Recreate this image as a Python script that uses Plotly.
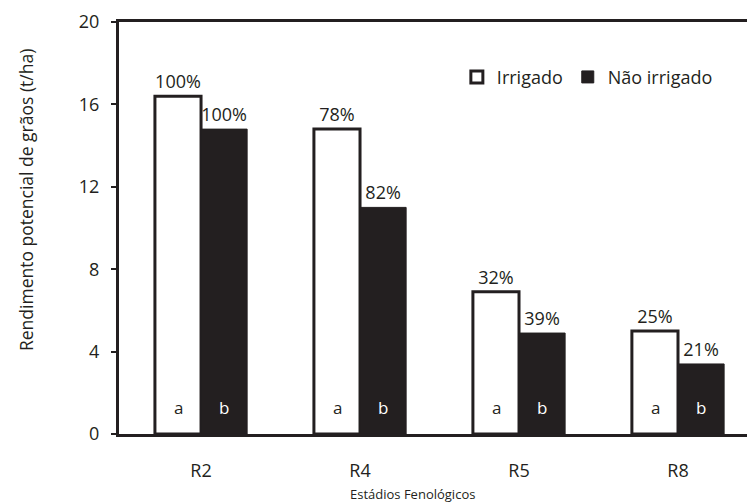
import plotly.graph_objects as go

categories = ["R2", "R4", "R5", "R8"]
irrigado = [16.4, 14.8, 6.9, 5.0]
nao_irrigado = [14.8, 11.0, 4.9, 3.4]
pct_irrigado = ["100%", "78%", "32%", "25%"]
pct_nao = ["100%", "82%", "39%", "21%"]
letters_irrigado = ["a", "a", "a", "a"]
letters_nao = ["b", "b", "b", "b"]
y_ticks = [0, 4, 8, 12, 16, 20]

DARK = "#231f20"
FONT = "Open Sans"
FS = 18

fig = go.Figure()
fig.add_trace(go.Bar(
    x=categories, y=irrigado, name="Irrigado",
    marker=dict(color="white", line=dict(color=DARK, width=3)),
    text=pct_irrigado, textposition="outside", cliponaxis=False,
    constraintext="none",
    textfont=dict(size=FS, color=DARK, family=FONT),
))
fig.add_trace(go.Bar(
    x=categories, y=nao_irrigado, name="Não irrigado",
    marker=dict(color=DARK, line=dict(color=DARK, width=1)),
    text=pct_nao, textposition="outside", cliponaxis=False,
    constraintext="none",
    textfont=dict(size=FS, color=DARK, family=FONT),
))

annotations = []
for c, la, lb in zip(categories, letters_irrigado, letters_nao):
    annotations.append(dict(x=c, y=1.3, xref="x", yref="y", text=la, showarrow=False,
                            xshift=-23, font=dict(size=17, color=DARK, family=FONT)))
    annotations.append(dict(x=c, y=1.3, xref="x", yref="y", text=lb, showarrow=False,
                            xshift=23, font=dict(size=17, color="white", family=FONT)))

annotations.append(dict(x=0.468, y=-0.146, xref="paper", yref="paper",
                        text="Estádios Fenológicos", showarrow=False,
                        yanchor="middle", font=dict(size=13, color=DARK, family=FONT)))
annotations.append(dict(x=-0.148, y=0.568, xref="paper", yref="paper",
                        text="Rendimento potencial de grãos (t/ha)", showarrow=False,
                        textangle=-90, xanchor="center", yanchor="middle",
                        font=dict(size=17.5, color=DARK, family=FONT)))

fig.update_layout(
    width=747, height=504,
    margin=dict(l=119, r=0, t=22, b=70),
    plot_bgcolor="white", paper_bgcolor="white",
    barmode="group", bargap=0.42, bargroupgap=0,
    font=dict(family=FONT, color=DARK, size=FS),
    showlegend=True,
    legend=dict(orientation="h", x=0.538, y=0.866, xanchor="left", yanchor="middle",
                font=dict(size=FS, color=DARK, family=FONT), bgcolor="rgba(0,0,0,0)",
                itemwidth=30, traceorder="normal"),
    annotations=annotations,
)
fig.update_xaxes(
    type="category", range=[-0.516, 3.434],
    showline=True, linecolor=DARK, linewidth=3, mirror=True,
    ticks="", showgrid=False, zeroline=False,
    tickfont=dict(size=FS, color=DARK, family=FONT), ticklabelstandoff=18,
)
fig.update_yaxes(
    range=[0, 20], tickvals=y_ticks,
    showline=True, linecolor=DARK, linewidth=3,
    ticks="outside", ticklen=5, tickwidth=2, tickcolor=DARK,
    showgrid=False, zeroline=False,
    tickfont=dict(size=FS, color=DARK, family=FONT), ticklabelstandoff=8,
)

fig.write_html("out.html", config={"displayModeBar": False},
               post_script="document.body.style.margin='0';")
